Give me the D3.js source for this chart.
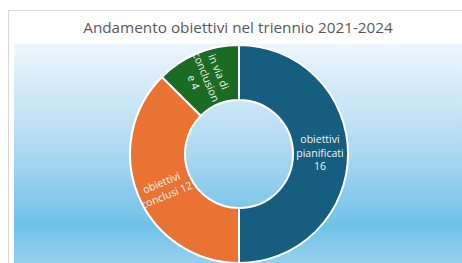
<!DOCTYPE html>
<html><head><meta charset="utf-8">
<script src="https://cdn.jsdelivr.net/npm/d3@7"></script>
<style>html,body{margin:0;padding:0;background:#fff;overflow:hidden}</style>
</head><body>
<svg id="c" width="462" height="263"></svg>
<script>
const title = "Andamento obiettivi nel triennio 2021-2024";
const categories = ["obiettivi pianificati", "obiettivi conclusi", "in via di conclusione"];
const values = [16, 12, 4];
const colors = ["#165e80", "#ea7334", "#1b6b25"];
const labelLines = [["obiettivi", "pianificati", "16"], ["obiettivi", "conclusi 12"], ["in via di", "conclusion", "e 4"]];

const svg = d3.select("#c");
const defs = svg.append("defs");
const g = defs.append("linearGradient").attr("id","bg").attr("x1",0).attr("y1",0).attr("x2",0).attr("y2",1);
g.append("stop").attr("offset","0").attr("stop-color","#eef6fc");
g.append("stop").attr("offset","0.45").attr("stop-color","#b3dbf2");
g.append("stop").attr("offset","0.83").attr("stop-color","#70c1e8");
g.append("stop").attr("offset","1").attr("stop-color","#97d1ef");

svg.append("rect").attr("x",8.5).attr("y",10.5).attr("width",470).attr("height",270)
  .attr("fill","#fff").attr("stroke","#d9d9d9");
svg.append("rect").attr("x",14).attr("y",44).attr("width",460).attr("height",219).attr("fill","url(#bg)");

svg.append("text").attr("x",238).attr("y",33).attr("text-anchor","middle")
  .attr("font-family","'Open Sans', sans-serif").attr("font-size",15.3).attr("fill","#595959")
  .text(title);

const cx = 239, cy = 154, R = 109, r = 54;
const pie = d3.pie().sort(null).value(d => d)(values);
const arc = d3.arc().innerRadius(r).outerRadius(R);
const chart = svg.append("g").attr("transform",`translate(${cx},${cy})`);
chart.selectAll("path").data(pie).join("path")
  .attr("d", arc).attr("fill",(d,i)=>colors[i]).attr("stroke","#fff").attr("stroke-width",2);

const labelPos = [[81, -1, 0], [-75, 35, -22.5], [-33, -77, 67.5]];
const lh = 13.5;
labelLines.forEach((lines,i)=>{
  const [x,y,rot] = labelPos[i];
  const t = chart.append("text").attr("transform",`translate(${x},${y}) rotate(${rot})`)
    .attr("text-anchor","middle").attr("font-family","'Open Sans', sans-serif")
    .attr("font-size",10.5).attr("fill","#f2f2f2");
  lines.forEach((l,j)=>{
    t.append("tspan").attr("x",0).attr("y",(j-(lines.length-1)/2)*lh).attr("dy","0.35em").text(l);
  });
});
</script>
</body></html>
